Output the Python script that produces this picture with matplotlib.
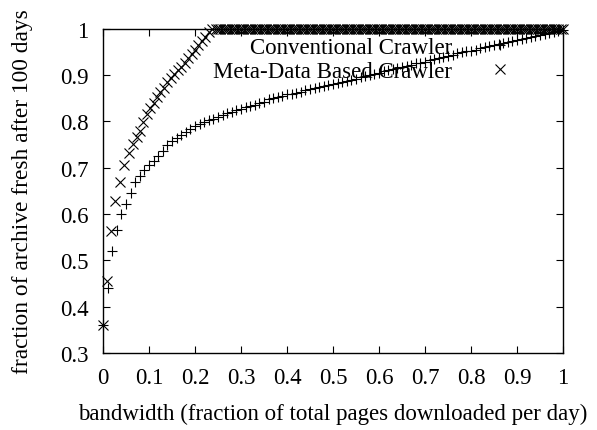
import numpy as np
import matplotlib
matplotlib.use("Agg")
import matplotlib.pyplot as plt

plt.rcParams['font.family'] = ['Liberation Serif', 'DejaVu Serif']

# bandwidth samples (fraction of pages downloaded per day), conventional crawler
conv_bandwidth = np.round(np.arange(0, 101) * 0.01, 2)

# fraction of archive fresh after 100 days, conventional crawler
conventional = [
    0.360, 0.440, 0.520, 0.565, 0.600, 0.622, 0.645, 0.668, 0.682, 0.695,
    0.706, 0.715, 0.725, 0.735, 0.748, 0.757, 0.764, 0.771, 0.778, 0.784,
    0.790, 0.794, 0.798, 0.802, 0.806, 0.810, 0.814, 0.817, 0.821, 0.824,
    0.827, 0.830, 0.833, 0.836, 0.839, 0.842, 0.848, 0.851, 0.853, 0.855,
    0.858, 0.860, 0.862, 0.864, 0.867, 0.869, 0.871, 0.874, 0.876, 0.878,
    0.880, 0.883, 0.885, 0.887, 0.889, 0.892, 0.895, 0.898, 0.901, 0.903,
    0.905, 0.908, 0.910, 0.912, 0.915, 0.917, 0.920, 0.922, 0.925, 0.927,
    0.929, 0.932, 0.934, 0.937, 0.939, 0.942, 0.944, 0.947, 0.949, 0.951,
    0.953, 0.955, 0.958, 0.960, 0.962, 0.964, 0.966, 0.969, 0.971, 0.973,
    0.975, 0.977, 0.980, 0.982, 0.984, 0.986, 0.988, 0.991, 0.993, 0.996,
    0.998,
]

# meta-data based crawler: sparse start, denser climb, then flat at 1
meta_bw_start = [0.0, 0.008, 0.018, 0.027, 0.037, 0.046, 0.056, 0.066, 0.073]
meta_start = [0.360, 0.456, 0.564, 0.629, 0.670, 0.706, 0.732, 0.752, 0.767]
meta_bw_climb = np.round(0.08 + np.arange(0, 22) * 0.0075, 4)
meta_climb = [
    0.780, 0.799, 0.815, 0.828, 0.840, 0.852, 0.863, 0.873, 0.884, 0.894,
    0.903, 0.911, 0.918, 0.927, 0.936, 0.945, 0.955, 0.965, 0.974, 0.983,
    0.992, 0.999,
]
meta_bw_flat = np.round(0.245 + np.arange(0, 152) * 0.005, 3)
meta_flat = [1.0] * 152

meta_bandwidth = np.concatenate([meta_bw_start, meta_bw_climb, meta_bw_flat])
meta_data = meta_start + meta_climb + meta_flat

fs = 16.5

fig = plt.figure(figsize=(5.97, 4.31), dpi=100)
ax = fig.add_axes([0.1725, 0.179, 0.7705, 0.752])

ax.plot(conv_bandwidth, conventional, linestyle='none', marker='+', markersize=7.5,
        markeredgewidth=0.8, color='black', label='Conventional Crawler', clip_on=False)
ax.plot(meta_bandwidth, meta_data, linestyle='none', marker='x', markersize=6.5,
        markeredgewidth=0.8, color='black', label='Meta-Data Based Crawler', clip_on=False)

ax.set_xlim(0, 1)
ax.set_ylim(0.3, 1)
ax.set_xticks(np.arange(0, 11) / 10)
ax.set_xticklabels(['0', '0.1', '0.2', '0.3', '0.4', '0.5', '0.6', '0.7', '0.8', '0.9', '1'])
ax.set_yticks(np.arange(3, 11) / 10)
ax.set_yticklabels(['0.3', '0.4', '0.5', '0.6', '0.7', '0.8', '0.9', '1'])
ax.tick_params(direction='in', length=5, width=0.8, top=True, right=True,
               labelsize=fs, pad=10.5)
for s in ax.spines.values():
    s.set_linewidth(1.0)

ax.set_xlabel('bandwidth (fraction of total pages downloaded per day)', fontsize=fs, labelpad=10)
ax.set_ylabel('fraction of archive fresh after 100 days', fontsize=16.8, labelpad=19)

ax.legend(loc='upper right', bbox_to_anchor=(0.913, 0.975), markerfirst=False,
          frameon=False, fontsize=fs, handlelength=2, handletextpad=1.1,
          borderpad=0, borderaxespad=0, labelspacing=0.13)

fig.savefig('out.png', dpi=100)
